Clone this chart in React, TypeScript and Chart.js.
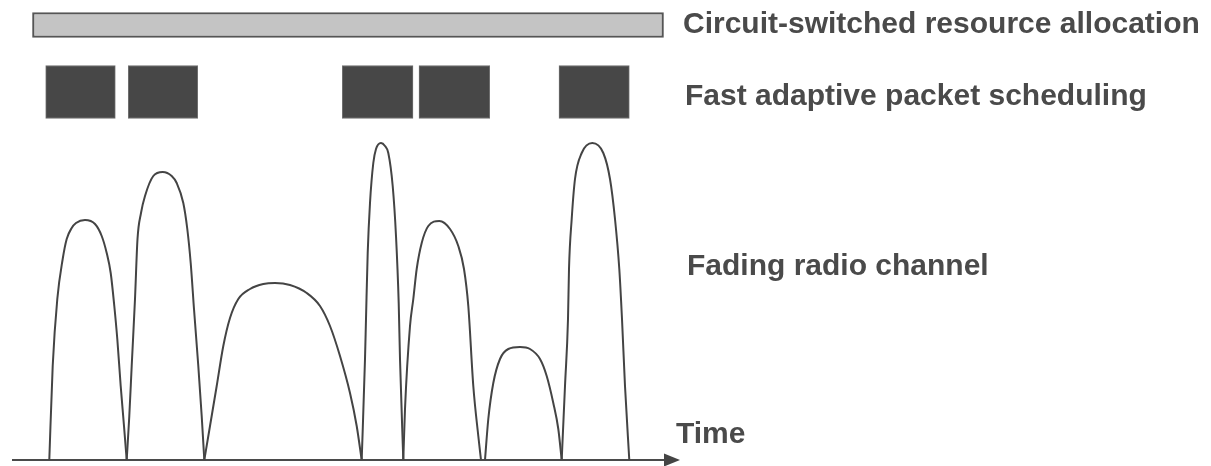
import React, { useEffect, useRef } from "react";
import { Chart, registerables } from "chart.js";

Chart.register(...registerables);

// ---- Data (time in arbitrary units, amplitude of channel quality above fade floor) ----
const lobe1: [number, number][] = [
  [4.93, 0], [5.27, 9.4], [5.73, 16.1], [6.27, 20.1], [6.67, 22.1], [7.17, 23.2], [7.6, 23.7], [8.5, 24.0],
  [9.5, 23.6], [10.17, 22.4], [10.67, 20.7], [11.07, 18.7], [11.43, 15.4], [11.73, 12.1], [12.07, 7.4], [12.4, 3.4], [12.67, 0],
];
const lobe2: [number, number][] = [
  [12.67, 0], [12.93, 4.4], [13.17, 9.4], [13.5, 16.1], [13.75, 22.1], [14.1, 24.7], [14.5, 26.4], [15.33, 28.4], [16.27, 28.8],
  [17.17, 28.4], [17.67, 27.7], [18.33, 25.7], [18.73, 23.1], [19.07, 19.7], [19.4, 15.1], [19.83, 9.4], [20.17, 4.4], [20.43, 0],
];
const lobe3: [number, number][] = [
  [20.43, 0], [21.0, 3.4], [21.67, 7.4], [22.33, 11.4], [23.0, 14.2], [23.83, 16.1], [25.0, 17.1], [26.33, 17.6], [27.5, 17.7],
  [29.0, 17.5], [30.67, 16.7], [32.0, 15.4], [33.0, 13.4], [34.0, 10.4], [35.0, 6.7], [35.67, 3.4], [36.17, 0],
];
const lobe4: [number, number][] = [
  [36.17, 0], [36.5, 10.1], [36.6, 14.1], [36.77, 20.7], [37.0, 25.7], [37.33, 29.7], [37.6, 31.1], [38.1, 31.7],
  [38.5, 31.4], [38.83, 30.7], [39.27, 27.4], [39.6, 22.4], [39.87, 15.7], [40.0, 10.1], [40.33, 0],
];
const lobe5: [number, number][] = [
  [40.33, 0], [40.5, 5.1], [41.0, 13.4], [41.33, 16.1], [41.67, 19.1], [42.17, 21.7], [42.83, 23.4], [43.93, 23.9],
  [45.0, 23.1], [45.83, 21.4], [46.4, 19.1], [46.83, 15.4], [47.33, 7.4], [47.83, 2.4], [48.1, 0],
];
const lobe6: [number, number][] = [
  [48.5, 0], [48.83, 4.1], [49.33, 7.7], [50.0, 10.1], [50.83, 11.1], [52.0, 11.3], [53.0, 11.1], [54.0, 10.1],
  [54.67, 8.4], [55.33, 5.7], [55.83, 3.1], [56.17, 0],
];
const lobe7: [number, number][] = [
  [56.17, 0], [56.5, 7.4], [56.8, 14.1], [56.9, 19.1], [57.17, 24.1], [57.5, 28.1], [58.17, 30.7], [59.23, 31.7],
  [60.33, 30.7], [61.0, 28.1], [61.5, 24.1], [61.93, 19.1], [62.2, 14.1], [62.5, 7.4], [62.93, 0],
];
const fadingLobes = [lobe1, lobe2, lobe3, lobe4, lobe5, lobe6, lobe7];

// Resource allocation (time spans)
const circuitAllocation: [number, number] = [3.25, 66.35];
const packetSlots: [number, number][] = [
  [4.57, 11.53], [12.83, 19.77], [34.23, 41.3], [41.9, 48.97], [55.9, 62.93],
];

// Time axis extent and arrow tip
const timeAxisRange: [number, number] = [1.2, 66.5];
const timeArrowTip = 68.0;

// Row indices for the allocation bars
const ROW_CIRCUIT = 2;
const ROW_PACKET = 1;

// Label texts
const labelTexts = [
  "Circuit-switched resource allocation",
  "Fast adaptive packet scheduling",
  "Fading radio channel",
  "Time",
];

// ---- Layout (positions of labels in scale units) ----
const LABEL_LAYOUT = [
  { t: 68.3, a: 42.7 },
  { t: 68.5, a: 35.5 },
  { t: 68.7, a: 18.5 },
  { t: 67.6, a: 1.7 },
];

const annotatePlugin = {
  id: "annotate",
  afterDatasetsDraw(chart: any) {
    const { ctx, scales } = chart;
    const xs = scales.x;
    const ys = scales.y;
    const y0 = ys.getPixelForValue(0);
    const baseX = xs.getPixelForValue(timeAxisRange[1]);
    const tipX = xs.getPixelForValue(timeArrowTip);
    ctx.save();
    ctx.fillStyle = "#444444";
    ctx.beginPath();
    ctx.moveTo(baseX - 1, y0 - 6.5);
    ctx.lineTo(tipX, y0);
    ctx.lineTo(baseX - 1, y0 + 6.5);
    ctx.closePath();
    ctx.fill();

    ctx.font = 'bold 30px "Liberation Sans", Arial, sans-serif';
    ctx.fillStyle = "#4a4a4a";
    ctx.textBaseline = "alphabetic";
    ctx.textAlign = "left";
    labelTexts.forEach((txt, i) => {
      const l = LABEL_LAYOUT[i];
      ctx.fillText(txt, xs.getPixelForValue(l.t), ys.getPixelForValue(l.a));
    });
    ctx.restore();
  },
};

export default function App() {
  const canvasRef = useRef<HTMLCanvasElement | null>(null);

  useEffect(() => {
    if (!canvasRef.current) return;
    const lobeDatasets = fadingLobes.map((lobe, i) => ({
      type: "line" as const,
      label: `lobe${i + 1}`,
      data: lobe.map(([t, a]) => ({ x: t, y: a })),
      borderColor: "#444444",
      borderWidth: 2,
      pointRadius: 0,
      cubicInterpolationMode: "monotone" as const,
      fill: false,
      xAxisID: "x",
      yAxisID: "y",
    }));

    const axisDataset = {
      type: "line" as const,
      label: "time axis",
      data: timeAxisRange.map((t) => ({ x: t, y: 0 })),
      borderColor: "#4a4a4a",
      borderWidth: 2,
      pointRadius: 0,
      fill: false,
      xAxisID: "x",
      yAxisID: "y",
    };

    const circuitDataset = {
      type: "bar" as const,
      label: "circuit",
      indexAxis: "y" as const,
      data: [{ x: circuitAllocation, y: ROW_CIRCUIT }],
      backgroundColor: "#c4c4c4",
      borderColor: "#555555",
      borderWidth: 2,
      borderSkipped: false,
      barThickness: 25,
      grouped: false,
      xAxisID: "x",
      yAxisID: "yRows",
    };

    const packetDataset = {
      type: "bar" as const,
      label: "packet",
      indexAxis: "y" as const,
      data: packetSlots.map((s) => ({ x: s, y: ROW_PACKET })),
      backgroundColor: "#474747",
      borderColor: "#707070",
      borderWidth: 1,
      borderSkipped: false,
      barThickness: 53,
      grouped: false,
      xAxisID: "x",
      yAxisID: "yRows",
    };

    const chart = new Chart(canvasRef.current, {
      type: "line",
      data: {
        datasets: [...lobeDatasets, axisDataset, circuitDataset, packetDataset] as any,
      },
      options: {
        animation: false,
        responsive: false,
        maintainAspectRatio: false,
        layout: { padding: 0 },
        plugins: {
          legend: { display: false },
          tooltip: { enabled: false },
          title: { display: false },
        },
        events: [],
        scales: {
          x: { type: "linear", axis: "x", display: false, min: 0, max: 121.1, offset: false },
          y: { type: "linear", axis: "y", display: false, min: -0.6, max: 46.0, offset: false },
          yRows: { type: "linear", axis: "y", display: false, min: -4.582, max: 2.373, offset: false },
        },
      } as any,
      plugins: [annotatePlugin],
    });
    return () => chart.destroy();
  }, []);

  return (
    <div style={{ position: "absolute", left: 0, top: 0, width: 1211, height: 466, background: "#ffffff" }}>
      <canvas ref={canvasRef} width={1211} height={466} style={{ display: "block" }} />
    </div>
  );
}
